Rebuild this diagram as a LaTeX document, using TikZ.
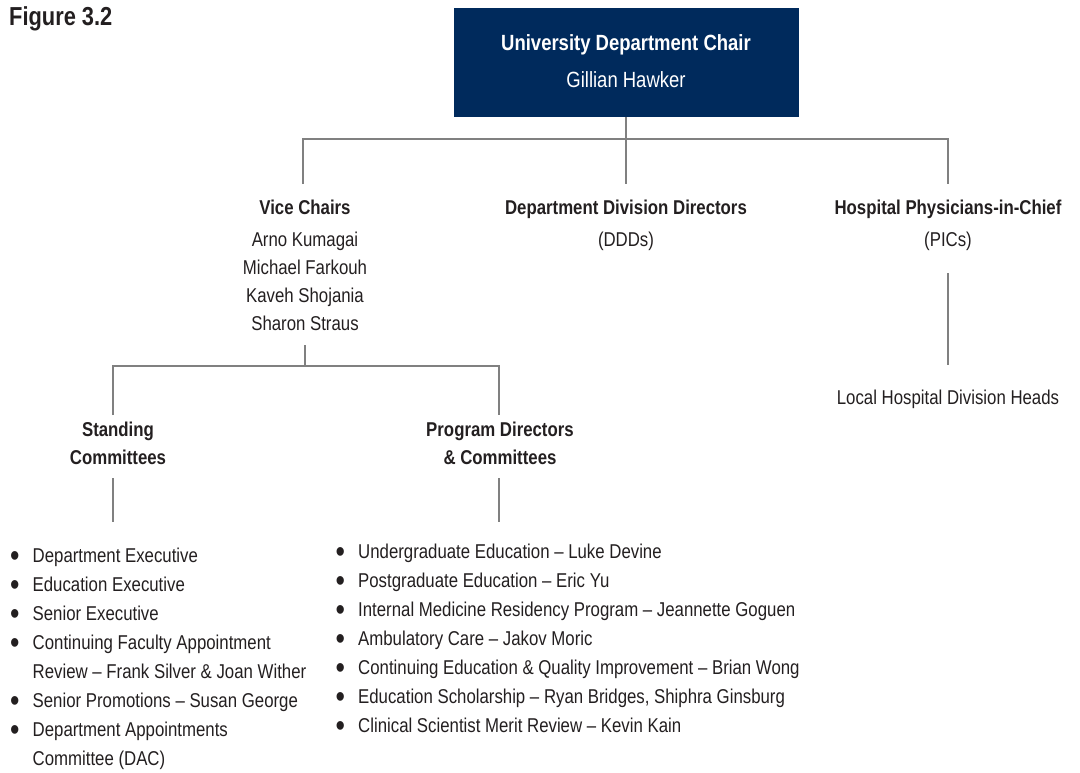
\documentclass[tikz,border=0pt]{standalone}
\usepackage{fontspec}
\usepackage{graphicx}
\setmainfont[FakeStretch=0.84]{Liberation Sans}
\definecolor{navy}{HTML}{002A5C}
\definecolor{ink}{HTML}{231F20}
\newcommand{\bul}{\makebox[22.5pt][l]{\raisebox{-3.6pt}{\scalebox{1.6}{\textbullet}}}}
\newcommand{\cont}{\hspace*{22.5pt}}

\begin{document}
\begin{tikzpicture}[x=1pt,y=-1pt,
  every node/.style={text=ink,inner sep=0pt},
  head/.style={font=\fontsize{20}{28}\selectfont\bfseries,align=center},
  plain/.style={font=\fontsize{20}{28}\selectfont,align=center},
  listing/.style={font=\fontsize{20}{29}\selectfont,align=left,anchor=north west},
  link/.style={draw=black!50,line width=1.3pt}]
\useasboundingbox (0,0) rectangle (1080,772);
	% caption
	\node[anchor=north west,font=\fontsize{26}{30}\selectfont\bfseries] (fig) at (9,6) {Figure 3.2};
	% top box
	\node[fill=navy,minimum width=345,minimum height=109] (chair) at (626,62.5) {};
	\node[head,text=white,font=\fontsize{22}{37}\selectfont\bfseries,anchor=north] (chairhd) at (626,34) {University Department Chair};
	\node[plain,text=white,font=\fontsize{22}{37}\selectfont,anchor=north] (chairnm) at (626,71) {Gillian Hawker};
	% second row
	\node[head,anchor=north] (vice) at (305,200) {Vice Chairs};
	\node[plain,anchor=north] (vicenm) at (305,232) {Arno Kumagai\\Michael Farkouh\\Kaveh Shojania\\Sharon Straus};
	\node[head,anchor=north] (ddd) at (626,200) {Department Division Directors};
	\node[plain,anchor=north] (dddab) at (626,232) {(DDDs)};
	\node[head,anchor=north] (pic) at (948,200) {Hospital Physicians-in-Chief};
	\node[plain,anchor=north] (picab) at (948,232) {(PICs)};
	\node[plain,anchor=north] (local) at (948,390) {Local Hospital Division Heads};
	% third row
	\node[head,anchor=north] (stand) at (118,422) {Standing\\Committees};
	\node[head,anchor=north] (prog) at (500,422) {Program Directors\\\& Committees};
	% lists
	\node[listing] (standlist) at (10,548) {\bul Department Executive\\
	  \bul Education Executive\\
	  \bul Senior Executive\\
	  \bul Continuing Faculty Appointment\\
	  \cont Review -- Frank Silver \& Joan Wither\\
	  \bul Senior Promotions -- Susan George\\
	  \bul Department Appointments\\
	  \cont Committee (DAC)};
	\node[listing] (proglist) at (335.5,544) {\bul Undergraduate Education -- Luke Devine\\
	  \bul Postgraduate Education -- Eric Yu\\
	  \bul Internal Medicine Residency Program -- Jeannette Goguen\\
	  \bul Ambulatory Care -- Jakov Moric\\
	  \bul Continuing Education \& Quality Improvement -- Brian Wong\\
	  \bul Education Scholarship -- Ryan Bridges, Shiphra Ginsburg\\
	  \bul Clinical Scientist Merit Review -- Kevin Kain};
	% joints
	\coordinate (j1) at (626,139);
	\coordinate (vicein) at (303,184);
	\coordinate (dddin) at (626,184);
	\coordinate (picin) at (948,184);
	\coordinate (picout) at (948,273);
	\coordinate (localin) at (948,365);
	\coordinate (viceout) at (305,345);
	\coordinate (j2) at (305,366);
	\coordinate (standin) at (113,415);
	\coordinate (progin) at (499,415);
	\coordinate (standout) at (113,478);
	\coordinate (standlistin) at (113,522);
	\coordinate (progout) at (499,478);
	\coordinate (proglistin) at (499,522);
	% connectors
	\draw[link] (chair.south) -- (dddin);
	\draw[link] (vicein) |- (j1) -| (picin);
	\draw[link] (picout) -- (localin);
	\draw[link] (viceout) -- (j2);
	\draw[link] (standin) |- (j2) -| (progin);
	\draw[link] (standout) -- (standlistin);
	\draw[link] (progout) -- (proglistin);
\end{tikzpicture}
\end{document}
